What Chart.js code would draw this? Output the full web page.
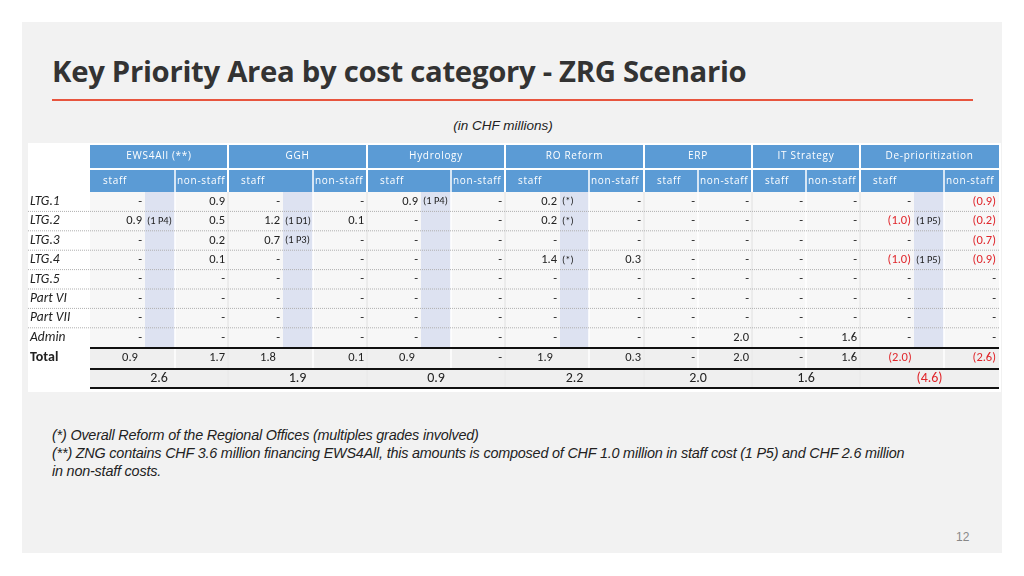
<!DOCTYPE html>
<html>
<head>
<meta charset="utf-8">
<script src="https://cdn.jsdelivr.net/npm/chart.js@4.4.1/dist/chart.umd.min.js"></script>
<style>
  html, body { margin: 0; padding: 0; background: #fff; }
  body { width: 1024px; height: 576px; position: relative; overflow: hidden; font-family: Calibri, Carlito, "Liberation Sans", sans-serif; }
  #card { position: absolute; left: 22px; top: 22px; width: 980px; height: 531px; background: #f2f2f2; }
  #title { position: absolute; left: 52px; top: 51px; font-size: 29.3px; font-weight: bold; color: #333; font-family: "Open Sans", sans-serif; letter-spacing: -0.3px; }
  #rule { position: absolute; left: 52px; top: 99px; width: 921px; height: 2px; background: #e8553e; }
  #unit { position: absolute; left: 0; width: 1006px; top: 118px; text-align: center; font-style: italic; font-size: 13.5px; color: #222; font-family: "Liberation Sans", sans-serif; }
  #notes { position: absolute; left: 52px; top: 426px; font-style: italic; font-size: 14.4px; line-height: 18px; color: #222; font-family: "Liberation Sans", sans-serif; letter-spacing: -0.2px; }
  #page { position: absolute; left: 956px; top: 530px; font-size: 12px; color: #888; font-family: "Liberation Sans", sans-serif; }
  #wrap { position: absolute; left: 0; top: 0; width: 1024px; height: 576px; }
</style>
</head>
<body>
<div id="card"></div>
<div id="title">Key Priority Area by cost category - ZRG Scenario</div>
<div id="rule"></div>
<div id="unit">(in CHF millions)</div>
<div id="notes">(*) Overall Reform of the Regional Offices (multiples grades involved)<br>(**) ZNG contains CHF 3.6 million financing EWS4All, this amounts is composed of CHF 1.0 million in staff cost (1 P5) and CHF 2.6 million<br>in non-staff costs.</div>
<div id="page">12</div>
<div id="wrap"><canvas id="tbl"></canvas></div>
<script>
const groups = ['EWS4All (**)', 'GGH', 'Hydrology', 'RO Reform', 'ERP', 'IT Strategy', 'De-prioritization'];
const rowLabels = ['LTG.1', 'LTG.2', 'LTG.3', 'LTG.4', 'LTG.5', 'Part VI', 'Part VII', 'Admin'];

const staff = [
  ['-', '0.9', '-', '-', '-', '-', '-', '-'],
  ['-', '1.2', '0.7', '-', '-', '-', '-', '-'],
  ['0.9', '-', '-', '-', '-', '-', '-', '-'],
  ['0.2', '0.2', '-', '1.4', '-', '-', '-', '-'],
  ['-', '-', '-', '-', '-', '-', '-', '-'],
  ['-', '-', '-', '-', '-', '-', '-', '-'],
  ['-', '(1.0)', '-', '(1.0)', '-', '-', '-', '-']
];
const staffNotes = [
  ['', '(1 P4)', '', '', '', '', '', ''],
  ['', '(1 D1)', '(1 P3)', '', '', '', '', ''],
  ['(1 P4)', '', '', '', '', '', '', ''],
  ['(*)', '(*)', '', '(*)', '', '', '', ''],
  ['', '', '', '', '', '', '', ''],
  ['', '', '', '', '', '', '', ''],
  ['', '(1 P5)', '', '(1 P5)', '', '', '', '']
];
const nonStaff = [
  ['0.9', '0.5', '0.2', '0.1', '-', '-', '-', '-'],
  ['-', '0.1', '-', '-', '-', '-', '-', '-'],
  ['-', '-', '-', '-', '-', '-', '-', '-'],
  ['-', '-', '-', '0.3', '-', '-', '-', '-'],
  ['-', '-', '-', '-', '-', '-', '-', '2.0'],
  ['-', '-', '-', '-', '-', '-', '-', '1.6'],
  ['(0.9)', '(0.2)', '(0.7)', '(0.9)', '-', '-', '-', '-']
];
const totalStaff = ['0.9', '1.8', '0.9', '1.9', '-', '-', '(2.0)'];
const totalNonStaff = ['1.7', '0.1', '-', '0.3', '2.0', '1.6', '(2.6)'];
const grandTotal = ['2.6', '1.9', '0.9', '2.2', '2.0', '1.6', '(4.6)'];

// layout (page pixels, mapped through the chart's linear scales)
const groupEdges = [90, 228, 367, 505, 644, 752, 860, 999];
const splitEdges = [175, 313, 451, 589, 698, 806, 944];
const annexEdges = [145, 283, 421, 560, null, null, 914];
const head1 = [145, 168], head2 = [170, 192];
const rowTop = 192, rowH = 19.4;
const totalRow = [348, 368], grandRow = [369, 388];
const blue = '#5b9bd5', red = '#e0262b', ink = '#222';

const cells = [];
function cell(x, y, t, opt) { cells.push(Object.assign({ x: x, y: y, t: t }, opt || {})); }
const isNeg = (t) => t.startsWith('(') && /\d/.test(t) && !t.includes('P') && !t.includes('D');

groups.forEach((g, gi) => {
  const x0 = groupEdges[gi], x1 = groupEdges[gi + 1], sp = splitEdges[gi], an = annexEdges[gi];
  cell((x0 + x1) / 2, (head1[0] + head1[1]) / 2, g, { kind: 'head' });
  cell(x0 + 13, (head2[0] + head2[1]) / 2, 'staff', { kind: 'head', align: 'left' });
  cell(sp + 2, (head2[0] + head2[1]) / 2, 'non-staff', { kind: 'head', align: 'left' });
  rowLabels.forEach((r, ri) => {
    const y = rowTop + rowH * ri + rowH / 2;
    const s = staff[gi][ri];
    cell((an || sp) - 3, y, s, { align: 'right', color: isNeg(s) ? red : ink });
    if (staffNotes[gi][ri]) cell(an + 2, y, staffNotes[gi][ri], { align: 'left', small: true });
    const n = nonStaff[gi][ri];
    cell(x1 - 3, y, n, { align: 'right', color: isNeg(n) ? red : ink });
  });
  const ty = (totalRow[0] + totalRow[1]) / 2;
  const ts = totalStaff[gi];
  if (ts === '-') cell(sp - 3, ty, ts, { align: 'right' });
  else cell(x0 + 40, ty, ts, { color: isNeg(ts) ? red : ink });
  cell(x1 - 3, ty, totalNonStaff[gi], { align: 'right', color: isNeg(totalNonStaff[gi]) ? red : ink });
  cell((x0 + x1) / 2, (grandRow[0] + grandRow[1]) / 2, grandTotal[gi], { big: true, color: isNeg(grandTotal[gi]) ? red : ink });
});
rowLabels.forEach((r, ri) => cell(30, rowTop + rowH * ri + rowH / 2, r, { align: 'left', label: true }));
cell(30, (totalRow[0] + totalRow[1]) / 2 - 1, 'Total', { align: 'left', bold: true });

const tablePlugin = {
  id: 'tablePlugin',
  beforeDatasetsDraw(chart) {
    const { ctx, scales: { x, y } } = chart;
    const X = (v) => x.getPixelForValue(v), Y = (v) => y.getPixelForValue(v);
    const L = groupEdges[0], R = groupEdges[groupEdges.length - 1];
    ctx.save();
    ctx.fillStyle = '#ffffff';
    ctx.fillRect(X(28), Y(143), X(1001) - X(28), Y(392) - Y(143));
    ctx.fillStyle = '#f7f7f7';
    ctx.fillRect(X(L), Y(rowTop), X(R) - X(L), Y(grandRow[1]) - Y(rowTop));
    ctx.fillStyle = '#efefef';
    ctx.fillRect(X(L), Y(totalRow[0]), X(R) - X(L), Y(grandRow[1]) - Y(totalRow[0]));
    // headers
    ctx.fillStyle = blue;
    ctx.fillRect(X(L), Y(head1[0]), X(R) - X(L), Y(head2[1]) - Y(head1[0]));
    ctx.strokeStyle = '#ffffff'; ctx.lineWidth = 2;
    ctx.beginPath(); ctx.moveTo(X(L), Y(169)); ctx.lineTo(X(R), Y(169)); ctx.stroke();
    // annex shading
    ctx.fillStyle = '#dde2f1';
    annexEdges.forEach((a, i) => { if (a) ctx.fillRect(X(a), Y(head2[1]), X(splitEdges[i]) - X(a), Y(totalRow[0]) - Y(head2[1])); });
    // vertical separators
    ctx.strokeStyle = '#ffffff'; ctx.lineWidth = 2;
    groupEdges.slice(1, -1).forEach((g) => { ctx.beginPath(); ctx.moveTo(X(g), Y(head1[0])); ctx.lineTo(X(g), Y(grandRow[1])); ctx.stroke(); });
    ctx.lineWidth = 1.5;
    splitEdges.forEach((s) => { ctx.beginPath(); ctx.moveTo(X(s), Y(head2[0])); ctx.lineTo(X(s), Y(totalRow[1])); ctx.stroke(); });
    ctx.strokeStyle = '#d8d8d8'; ctx.lineWidth = 1;
    groupEdges.slice(1, -1).forEach((g) => { ctx.beginPath(); ctx.moveTo(X(g), Y(rowTop)); ctx.lineTo(X(g), Y(grandRow[1])); ctx.stroke(); });
    // dotted row lines
    ctx.strokeStyle = '#b0b0b0'; ctx.setLineDash([1, 1]);
    for (let i = 1; i < rowLabels.length; i++) {
      const yy = Y(rowTop + rowH * i);
      ctx.beginPath(); ctx.moveTo(X(28), yy); ctx.lineTo(X(R), yy); ctx.stroke();
    }
    ctx.setLineDash([]);
    // total rules
    ctx.strokeStyle = '#111'; ctx.lineWidth = 2;
    [totalRow[0], grandRow[0], grandRow[1]].forEach((v) => { ctx.beginPath(); ctx.moveTo(X(L), Y(v)); ctx.lineTo(X(R), Y(v)); ctx.stroke(); });
    ctx.restore();
  },
  afterDatasetsDraw(chart) {
    const { ctx } = chart;
    const meta = chart.getDatasetMeta(0);
    ctx.save();
    ctx.textBaseline = 'middle';
    meta.data.forEach((pt, i) => {
      const c = cells[i];
      if (c.kind === 'head') {
        ctx.font = '10px "Open Sans", sans-serif'; ctx.fillStyle = '#ffffff';
        ctx.letterSpacing = '0.7px';
      } else {
        ctx.letterSpacing = '0px';
        let f = c.small ? '10.5px' : (c.big ? '14px' : '12.5px');
        if (c.label) f = 'italic 13.5px';
        if (c.bold) f = 'bold 14px';
        ctx.font = f + ' Carlito, Calibri, "Liberation Sans", sans-serif';
        ctx.fillStyle = c.color || ink;
      }
      ctx.textAlign = c.align || 'center';
      ctx.fillText(c.t, pt.x, pt.y);
    });
    ctx.restore();
  }
};

new Chart(document.getElementById('tbl'), {
  type: 'scatter',
  data: { datasets: [{ data: cells, pointRadius: 0, pointHoverRadius: 0 }] },
  options: {
    responsive: true,
    maintainAspectRatio: false,
    animation: false,
    events: [],
    layout: { padding: 0 },
    scales: {
      x: { type: 'linear', min: 0, max: 1024, display: false },
      y: { type: 'linear', min: 0, max: 576, reverse: true, display: false }
    },
    plugins: { legend: { display: false }, tooltip: { enabled: false } }
  },
  plugins: [tablePlugin]
});
</script>
</body>
</html>
